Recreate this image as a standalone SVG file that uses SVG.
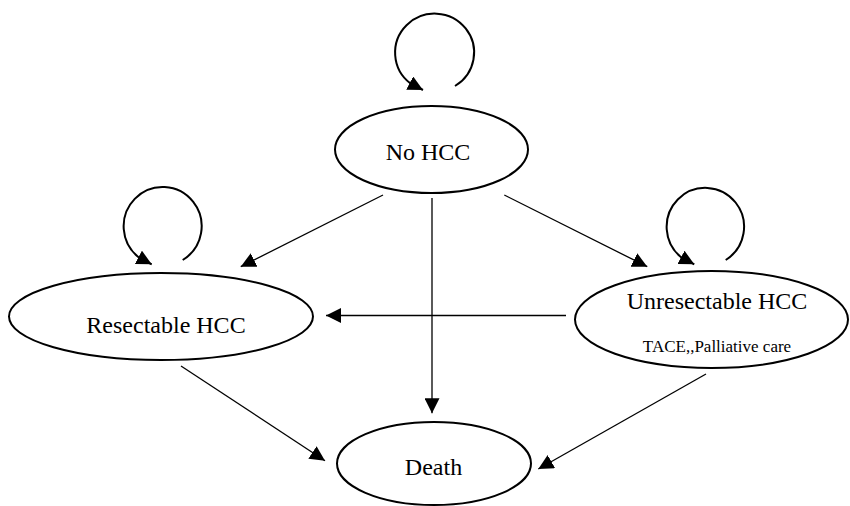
<svg xmlns="http://www.w3.org/2000/svg" width="850" height="506" viewBox="0 0 850 506">
<style>
.node{fill:#fff;stroke:#000;stroke-width:2}
.lbl{font-family:"Liberation Serif","Times New Roman",serif;font-size:24px;fill:#000;text-anchor:middle}
.sub{font-size:17px}
.edge{fill:none;stroke:#000;stroke-width:1.3}
.loop{fill:none;stroke:#000;stroke-width:2}
</style>
<defs>
<marker id="ah" viewBox="0 0 15 15" refX="15" refY="7.5" markerWidth="15" markerHeight="15" markerUnits="userSpaceOnUse" orient="auto">
<path d="M0,0 L15,7.5 L0,15 Z" fill="#000"/>
</marker>
</defs>
<rect width="850" height="506" fill="#fff"/>
<g id="connectors">
<path class="edge" d="M383,195 L240.7,266.7" marker-end="url(#ah)"/>
<path class="edge" d="M504.3,195 L647.3,266.7" marker-end="url(#ah)"/>
<path class="edge" d="M432,198 L432,413.3" marker-end="url(#ah)"/>
<path class="edge" d="M566,315.5 L326,315.5" marker-end="url(#ah)"/>
<path class="edge" d="M181,366 L325,460.7" marker-end="url(#ah)"/>
<path class="edge" d="M706,374 L538.3,469" marker-end="url(#ah)"/>
<path class="loop" d="M455,86 A39.5,39 0 1 0 410.5,83.5 L423,90" marker-end="url(#ah)"/>
<path class="loop" d="M182.7,260 A39,39.3 0 1 0 139.2,257.7 L151.7,264.3" marker-end="url(#ah)"/>
<path class="loop" d="M725.7,260 A38.7,39 0 1 0 681.7,257.7 L694.3,264.3" marker-end="url(#ah)"/>
</g>
<g id="no-hcc">
<ellipse class="node" cx="431.5" cy="149.5" rx="96.5" ry="43.5"/>
<text class="lbl" x="428" y="160">No HCC</text>
</g>
<g id="resectable">
<ellipse class="node" cx="161" cy="316.5" rx="152" ry="43.5"/>
<text class="lbl" x="166" y="333">Resectable HCC</text>
</g>
<g id="unresectable">
<ellipse class="node" cx="711.5" cy="319.5" rx="136.5" ry="48.5"/>
<text class="lbl" x="717" y="309">Unresectable HCC</text>
<text class="lbl sub" x="717" y="352">TACE,,Palliative care</text>
</g>
<g id="death">
<ellipse class="node" cx="434" cy="463.5" rx="97" ry="41.5"/>
<text class="lbl" x="433.5" y="475">Death</text>
</g>
</svg>
